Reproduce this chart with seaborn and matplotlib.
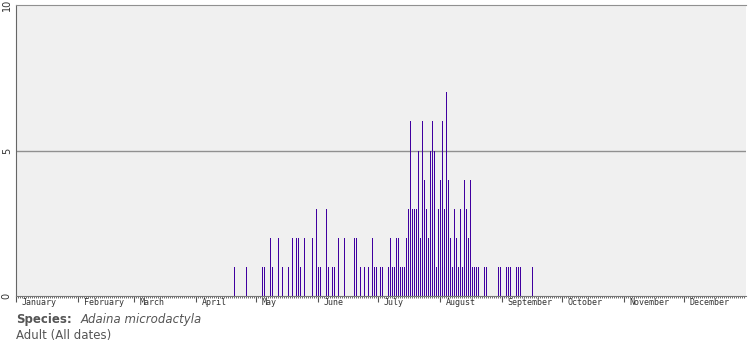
import matplotlib
matplotlib.use("Agg")
import matplotlib.pyplot as plt
import matplotlib.transforms as mtransforms
import seaborn as sns
import pandas as pd

# day of year (1-based, non-leap year) and number of adult records
day_of_year = [110, 116, 124, 125, 128, 129, 132, 134, 137, 139, 141, 142, 143, 145,
               149, 151, 152, 153, 156, 157, 159, 160, 162, 165, 170, 171, 173, 175,
               177, 179, 180, 181, 183, 184, 187, 188, 189, 190, 191, 192, 193, 194,
               195, 196, 197, 198, 199, 200, 201, 202, 203, 204, 205, 206, 207, 208,
               209, 210, 211, 212, 213, 214, 215, 216, 217, 218, 219, 220, 221, 222,
               223, 224, 225, 226, 227, 228, 229, 230, 231, 232, 235, 236, 242, 243,
               246, 247, 248, 251, 252, 253, 259]
records = [1, 1, 1, 1, 2, 1, 2, 1, 1, 2, 2, 2, 1, 2,
           2, 3, 1, 1, 3, 1, 1, 1, 2, 2, 2, 2, 1, 1,
           1, 2, 1, 1, 1, 1, 1, 2, 1, 1, 2, 2, 1, 1,
           1, 2, 3, 6, 3, 3, 3, 5, 2, 6, 4, 3, 2, 5,
           6, 5, 1, 3, 4, 6, 3, 7, 4, 2, 1, 3, 2, 1,
           3, 1, 4, 3, 2, 4, 1, 1, 1, 1, 1, 1, 1, 1,
           1, 1, 1, 1, 1, 1, 1]

months = ["January", "February", "March", "April", "May", "June", "July",
          "August", "September", "October", "November", "December"]
month_start = [1, 32, 60, 91, 121, 152, 182, 213, 244, 274, 305, 335]

species = "Adaina microdactyla"
stage = "Adult (All dates)"

df = pd.DataFrame({"day": day_of_year, "records": records})

fig = plt.figure(figsize=(7.55, 3.5), dpi=100)
ax = fig.add_axes([16 / 755, 1 - 296 / 350, 730 / 755, 291 / 350])
ax.set_facecolor("#f0f0f0")

sns.barplot(data=df, x="day", y="records", native_scale=True, width=0.5,
            color="#4000a0", saturation=1, linewidth=0, antialiased=False, ax=ax)

ax.set_xlim(0.75, 365.75)
ax.set_ylim(0, 10)
ax.set_xlabel("")
ax.set_ylabel("")

# y axis
ax.set_yticks([0, 5, 10])
ax.set_yticklabels(["0", "5", "10"])
ax.tick_params(axis="y", length=0, pad=3, labelsize=7, labelrotation=90,
               labelcolor="#333333")
for lbl in ax.get_yticklabels():
    lbl.set_verticalalignment("center")
ax.axhline(5, color="#909090", linewidth=1, zorder=0)

# x axis: day ticks and month ticks
ax.set_xticks([m - 0.5 for m in month_start])
ax.set_xticklabels([])
ax.set_xticks([d - 0.5 for d in range(1, 366)], minor=True)
ax.tick_params(axis="x", which="major", length=4, width=0.8, color="#555555")
ax.tick_params(axis="x", which="minor", length=1.5, width=0.6, color="#555555")
trans = mtransforms.blended_transform_factory(ax.transData, ax.transAxes)
for name, start in zip(months, month_start):
    ax.text(start + 2.5, -0.008, name, transform=trans, ha="left", va="top",
            fontsize=6, color="#333333", family="DejaVu Sans Mono")

ax.spines["right"].set_visible(False)
ax.spines["left"].set_color("#666666")
ax.spines["top"].set_color("#909090")
ax.spines["bottom"].set_color("#777777")
ax.spines["bottom"].set_linewidth(0.8)

# caption
fig.text(16 / 755, 1 - 320 / 350, "Species:", fontsize=8.5, fontweight="bold",
         color="#555555", va="center", ha="left")
fig.text(81 / 755, 1 - 320 / 350, species, fontsize=8.5, style="italic",
         color="#555555", va="center", ha="left")
fig.text(16 / 755, 1 - 336 / 350, stage, fontsize=8.5,
         color="#555555", va="center", ha="left")

fig.savefig("out.png", dpi=100)
